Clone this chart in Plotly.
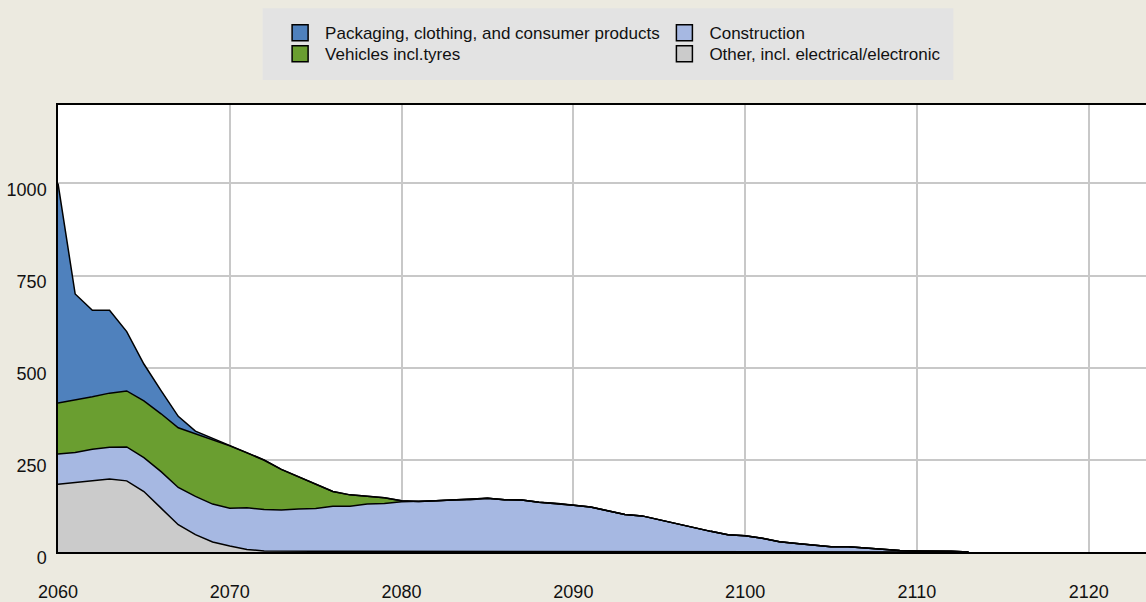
import plotly.graph_objects as go

years = list(range(2060, 2114))

other = [184, 188, 193, 198, 193, 164, 119, 74, 47, 27,
         16, 7, 3, 2, 2, 2, 2, 2, 2, 0.5,
         0, 0, 0, 0, 0, 0, 0, 0, 0, 0,
         0, 0, 0, 0, 0, 0, 0, 0, 0, 0,
         0, 0, 0, 0, 0, 0, 0, 0, 0, 0,
         0, 0, 0, 0]

construction = [82, 82, 86, 86, 92, 92, 99, 101, 104, 103,
                103, 113, 112, 112, 115, 116, 122, 122, 128, 131,
                136, 137, 139, 141, 142, 146, 142, 141, 135, 132,
                127, 122, 112, 102, 98, 87, 76, 65, 56, 47,
                44, 37, 28, 23, 18, 14, 14, 10, 8, 4,
                3, 3, 2, 0]

vehicles = [138, 142, 142, 147, 152, 154, 157, 162, 170, 175,
            169, 149, 134, 110, 87, 64, 40, 31, 21, 16,
            3, 0, 0, 0, 0, 0, 0, 0, 0, 0,
            0, 0, 0, 0, 0, 0, 0, 0, 0, 0,
            0, 0, 0, 0, 0, 0, 0, 0, 0, 0,
            0, 0, 0, 0]

packaging = [596, 288, 235, 225, 161, 100, 63, 31, 7, 3,
             2, 1, 1, 0, 0, 0, 0, 0, 0, 0,
             0, 0, 0, 0, 0, 0, 0, 0, 0, 0,
             0, 0, 0, 0, 0, 0, 0, 0, 0, 0,
             0, 0, 0, 0, 0, 0, 0, 0, 0, 0,
             0, 0, 0, 0]

series_names = ["Other, incl. electrical/electronic", "Construction",
                "Vehicles incl.tyres", "Packaging, clothing, and consumer products"]
series_colors = ["#CBCBCB", "#A6B8E2", "#6A9E30", "#4F81BD"]
series_values = [other, construction, vehicles, packaging]

x_ticks = [2060, 2070, 2080, 2090, 2100, 2110, 2120]
y_ticks = [0, 250, 500, 750, 1000]

W, H = 1152, 602
ML, MR, MT, MB = 58, 0, 105, 49
PW, PH = W - ML - MR, H - MT - MB

FONT = "Liberation Sans Narrow, Arial Narrow, Liberation Sans, Arial, sans-serif"


def px_x(p):
    return (p - ML) / PW


def px_y(p):
    return 1 + (MT - p) / PH


fig = go.Figure()
for name, col, vals in zip(series_names, series_colors, series_values):
    fig.add_trace(go.Scatter(
        x=years, y=vals, name=name, stackgroup="one", mode="lines",
        line=dict(color="black", width=1.5), fillcolor=col,
        showlegend=False, hoverinfo="x+y+name"))

# legend entries (square swatches)
legend_slots = {
    "Packaging, clothing, and consumer products": "legend",
    "Vehicles incl.tyres": "legend2",
    "Construction": "legend3",
    "Other, incl. electrical/electronic": "legend4",
}
for name, col in zip(series_names, series_colors):
    fig.add_trace(go.Scatter(
        x=[None], y=[None], mode="markers", name=name,
        marker=dict(symbol="square", size=18, color=col,
                    line=dict(color="black", width=1.5)),
        legend=legend_slots[name], showlegend=True))

leg_common = dict(bgcolor="rgba(0,0,0,0)", borderwidth=0, itemwidth=40,
                  font=dict(family=FONT, size=17, color="#111111"),
                  xanchor="left", yanchor="top", itemclick=False,
                  itemdoubleclick=False)
col1_left = 300.5 - 25
col2_left = 685.5 - 25
row1_top, row2_top = 15, 36

fig.update_layout(
    width=W, height=H,
    margin=dict(l=ML, r=MR, t=MT, b=MB),
    paper_bgcolor="#ECEAE0",
    plot_bgcolor="#FFFFFF",
    font=dict(family=FONT, size=18, color="#111111"),
    legend=dict(x=px_x(col1_left), y=px_y(row1_top), **leg_common),
    legend2=dict(x=px_x(col1_left), y=px_y(row2_top), **leg_common),
    legend3=dict(x=px_x(col2_left), y=px_y(row1_top), **leg_common),
    legend4=dict(x=px_x(col2_left), y=px_y(row2_top), **leg_common),
    shapes=[dict(type="rect", xref="paper", yref="paper",
                 x0=px_x(263), x1=px_x(955), y0=px_y(80), y1=px_y(8),
                 fillcolor="#E3E3E3", line=dict(width=0), layer="below")],
    xaxis=dict(range=[2060, 2060 + PW / 17.21], tickvals=x_ticks,
               ticktext=[str(v) for v in x_ticks],
               showgrid=True, gridcolor="#C8C8C8", gridwidth=1.5,
               showline=True, linecolor="black", linewidth=1.5, mirror=True,
               zeroline=False, ticks="", ticklabelstandoff=23,
               tickfont=dict(family=FONT, size=18)),
    yaxis=dict(range=[0, PH / 0.3694], tickvals=y_ticks,
               showgrid=True, gridcolor="#C8C8C8", gridwidth=1.5,
               showline=True, linecolor="black", linewidth=1.5, mirror=True,
               zeroline=False, ticks="", ticklabelstandoff=6,
               ticklabelshift=6,
               tickfont=dict(family=FONT, size=18)),
)

fig.write_html("out.html",
               config={"displayModeBar": False},
               post_script="document.body.style.margin='0';"
                           "document.body.style.overflow='hidden';")
